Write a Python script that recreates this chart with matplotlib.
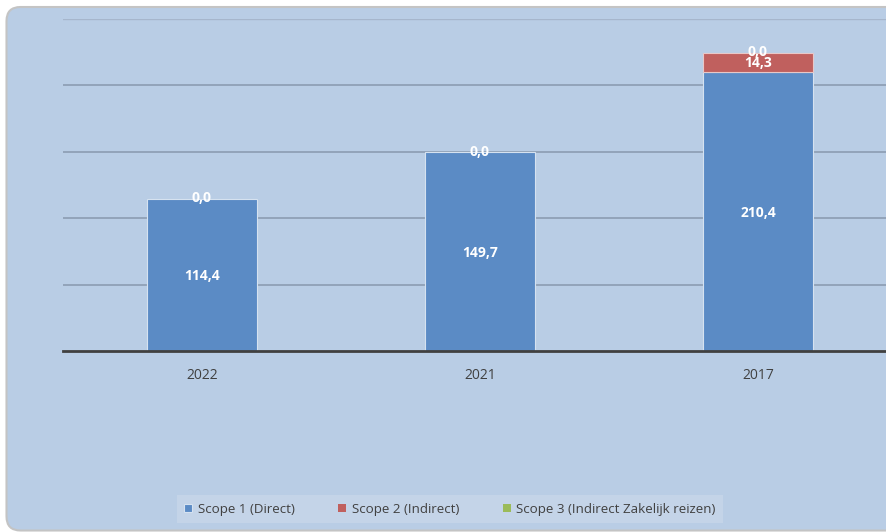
import matplotlib.pyplot as plt
import numpy as np
from matplotlib.patches import FancyBboxPatch
from matplotlib.transforms import IdentityTransform

years = ['2022', '2021', '2017']
scope1 = [114.4, 149.7, 210.4]
scope2 = [0.0, 0.0, 14.3]
scope3 = [0.0, 0.0, 0.0]
series_names = ['Scope 1 (Direct)', 'Scope 2 (Indirect)', 'Scope 3 (Indirect Zakelijk reizen)']

blue = '#5b8bc5'
red = '#c0605e'
green = '#9bbb59'
bg = '#b9cde5'

plt.rcParams['font.family'] = ['Open Sans', 'DejaVu Sans']

fig = plt.figure(figsize=(8.86, 5.32), dpi=100)
fig.patch.set_facecolor('white')

# rounded chart frame (pixel coords, origin bottom-left)
frame = FancyBboxPatch((6.5, 1.5), 900, 523.5,
                       boxstyle='round,pad=0,rounding_size=14',
                       transform=IdentityTransform(), facecolor=bg,
                       edgecolor='#c4c4c4', linewidth=1.5, zorder=-5)
fig.patches.append(frame)

ax = fig.add_axes([63 / 886, (532 - 351) / 532, 834 / 886, 332 / 532])
ax.set_facecolor('none')

x = np.arange(len(years))
w = 0.396
s1 = np.array(scope1)
s2 = np.array(scope2)
s3 = np.array(scope3)

def edge_w(vals):
    return [0.8 if v > 0 else 0 for v in vals]

ax.bar(x, s1, w, color=blue, edgecolor='#d6e2f0', linewidth=edge_w(s1), zorder=3, label=series_names[0])
ax.bar(x, s2, w, bottom=s1, color=red, edgecolor='#e8c8c8', linewidth=edge_w(s2), zorder=3, label=series_names[1])
ax.bar(x, s3, w, bottom=s1 + s2, color=green, edgecolor='none', linewidth=0, zorder=3, label=series_names[2])

def fmt(v):
    return f'{v:.1f}'.replace('.', ',')

lab = dict(color='white', fontsize=10, fontweight='bold', ha='center', va='center', zorder=5)
for i in range(len(years)):
    ax.text(x[i], s1[i] / 2 - 1, fmt(s1[i]), **lab)
    if s2[i] > 0:
        ax.text(x[i], s1[i] + s2[i] / 2 - 0.5, fmt(s2[i]), **lab)
    ax.text(x[i], s1[i] + s2[i] + s3[i] + 0.5, fmt(s3[i]), **lab)

ax.set_xlim(-0.5, 2.5)
ax.set_ylim(0, 250)
ax.set_yticks([50, 100, 150, 200])
ax.yaxis.grid(True, color='#8c9cb2', linewidth=1.2, zorder=1)
ax.axhline(250, color='#a6b6cc', linewidth=1.0, zorder=1)
ax.set_axisbelow(True)
ax.tick_params(axis='y', left=False, labelleft=False)
ax.tick_params(axis='x', length=0, pad=12, labelsize=10, labelcolor='#404040')
ax.set_xticks(x)
ax.set_xticklabels(years)
for sp in ['top', 'right', 'left']:
    ax.spines[sp].set_visible(False)
ax.spines['bottom'].set_color('#404040')
ax.spines['bottom'].set_linewidth(2)
ax.spines['bottom'].set_zorder(6)

handles, labels = ax.get_legend_handles_labels()
leg = fig.legend(handles, labels, loc='center', bbox_to_anchor=(450 / 886, (532 - 509) / 532),
                 ncol=3, frameon=True, fontsize=9.6, handlelength=0.6, handleheight=0.6,
                 handletextpad=0.4, columnspacing=3.3, borderpad=0.55, borderaxespad=0,
                 fancybox=False)
leg.get_frame().set_facecolor('#c8d7ea')
leg.get_frame().set_edgecolor('none')
for t in leg.get_texts():
    t.set_color('#404040')

fig.savefig('out.png', dpi=100, facecolor='white')
